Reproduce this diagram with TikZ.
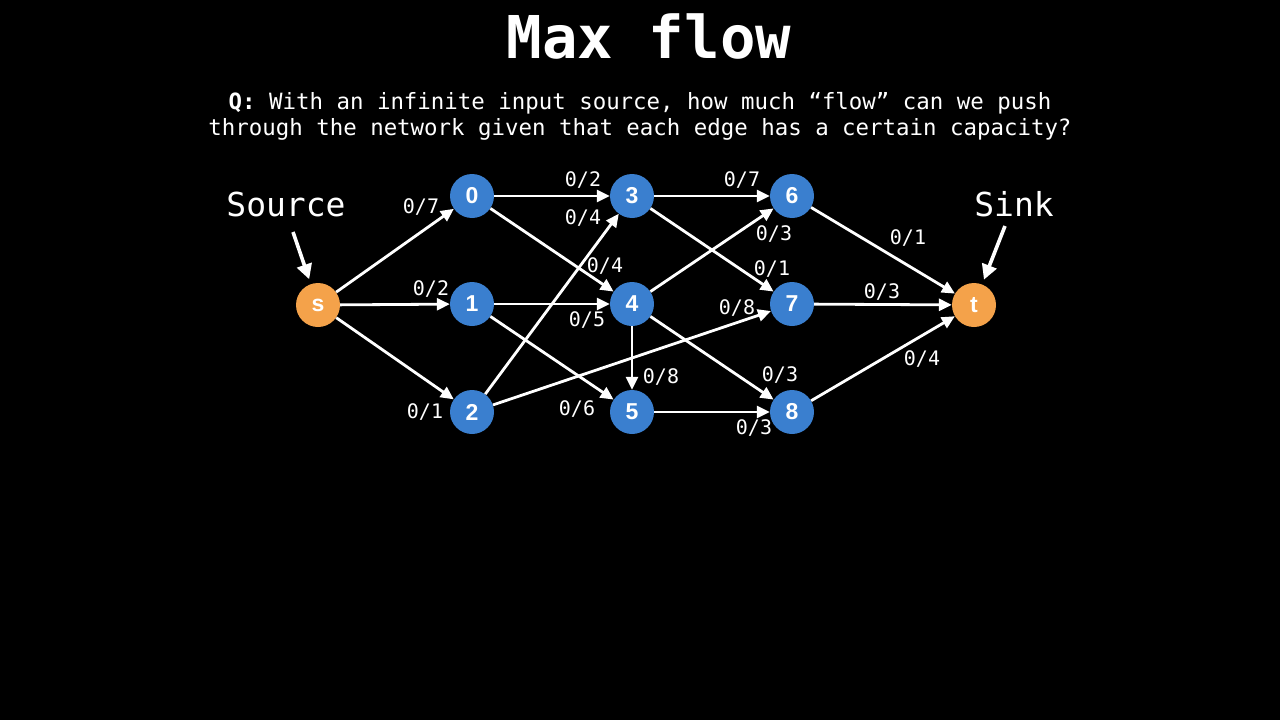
\documentclass[tikz,border=0pt]{standalone}
\usepackage{fontspec}
\setmonofont{DejaVu Sans Mono}
\newfontfamily\nodefont{Liberation Sans}
\usetikzlibrary{arrows.meta}
\definecolor{nodeblue}{HTML}{3A7FCF}
\definecolor{nodeorange}{HTML}{F4A24A}
\begin{document}
\begin{tikzpicture}[x=1pt,y=-1pt,
  vert/.style={circle,fill=nodeblue,minimum size=44pt,inner sep=0pt,
    text=white,font=\nodefont\bfseries\fontsize{23}{23}\selectfont},
  term/.style={vert,fill=nodeorange},
  edge/.style={draw=white,line width=2.8pt,-{Triangle[length=13pt,width=12pt]}},
  pointer/.style={draw=white,line width=3.6pt,shorten >=5pt,-{Triangle[length=15pt,width=15pt]}},
  lbl/.style={text=white,inner sep=0pt,font=\ttfamily\fontsize{20}{20}\selectfont},
  bigtxt/.style={text=white,inner sep=0pt,font=\ttfamily\fontsize{33}{34}\selectfont}]
\fill[black] (0,0) rectangle (1280,720);
\useasboundingbox (0,0) rectangle (1280,720);

% heading and question
\node[text=white,inner sep=0pt,font=\ttfamily\bfseries\fontsize{59}{60}\selectfont] (title) at (649,37) {Max flow};
\node[text=white,inner sep=0pt,align=center,font=\ttfamily\fontsize{22.4}{26}\selectfont] (question) at (640,116)
  {\textbf{Q:} With an infinite input source, how much “flow” can we push\\
   through the network given that each edge has a certain capacity?};

% vertices
\node[term] (s) at (318,305) {s};
\node[vert] (n0) at (472,196) {0};
\node[vert] (n1) at (472,304) {1};
\node[vert] (n2) at (472,412) {2};
\node[vert] (n3) at (632,196) {3};
\node[vert] (n4) at (632,304) {4};
\node[vert] (n5) at (632,412) {5};
\node[vert] (n6) at (792,196) {6};
\node[vert] (n7) at (792,304) {7};
\node[vert] (n8) at (792,412) {8};
\node[term] (t) at (974,305) {t};

% edges
\draw[edge] (s) -- (n0);
\draw[edge] (s) -- (n1);
\draw[edge] (s) -- (n2);
\draw[edge] (n0) -- (n3);
\draw[edge] (n0) -- (n4);
\draw[edge] (n1) -- (n4);
\draw[edge] (n1) -- (n5);
\draw[edge] (n2) -- (n3);
\draw[edge] (n2) -- (n7);
\draw[edge] (n3) -- (n6);
\draw[edge] (n3) -- (n7);
\draw[edge] (n4) -- (n6);
\draw[edge] (n4) -- (n5);
\draw[edge] (n4) -- (n8);
\draw[edge] (n5) -- (n8);
\draw[edge] (n6) -- (t);
\draw[edge] (n7) -- (t);
\draw[edge] (n8) -- (t);

% capacities
\node[lbl] (c-s0) at (421,207) {0/7};
\node[lbl] (c-s1) at (431,289) {0/2};
\node[lbl] (c-s2) at (425,412) {0/1};
\node[lbl] (c-03) at (583,180) {0/2};
\node[lbl] (c-04) at (605,266) {0/4};
\node[lbl] (c-23) at (583,218) {0/4};
\node[lbl] (c-14) at (587,320) {0/5};
\node[lbl] (c-15) at (577,409) {0/6};
\node[lbl] (c-27) at (737,308) {0/8};
\node[lbl] (c-36) at (742,180) {0/7};
\node[lbl] (c-37) at (772,269) {0/1};
\node[lbl] (c-46) at (774,234) {0/3};
\node[lbl] (c-45) at (661,377) {0/8};
\node[lbl] (c-48) at (780,375) {0/3};
\node[lbl] (c-58) at (754,428) {0/3};
\node[lbl] (c-6t) at (908,238) {0/1};
\node[lbl] (c-7t) at (882,292) {0/3};
\node[lbl] (c-8t) at (922,359) {0/4};

% source and sink captions with pointers
\node[bigtxt] (source) at (286,204) {Source};
\node[bigtxt] (sink) at (1014,204) {Sink};
\coordinate (srcfrom) at (293,232);
\coordinate (sinkfrom) at (1005,226);
\draw[pointer] (srcfrom) -- (s);
\draw[pointer] (sinkfrom) -- (t);
\end{tikzpicture}
\end{document}
